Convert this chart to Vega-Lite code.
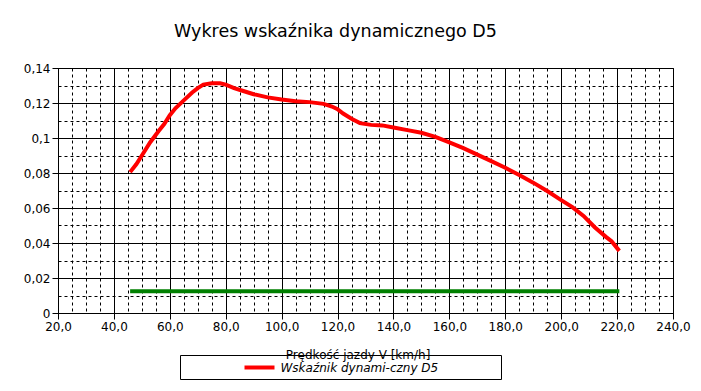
{
  "$schema": "https://vega.github.io/schema/vega-lite/v6.json",
  "autosize": "none",
  "width": 615,
  "height": 245,
  "padding": {"left": 58, "top": 68, "right": 28, "bottom": 78},
  "background": "white",
  "title": {
    "text": "Wykres wskaźnika dynamicznego D5",
    "fontSize": 17.5,
    "fontWeight": "normal",
    "font": "DejaVu Sans",
    "color": "black",
    "anchor": "middle",
    "frame": "group",
    "dx": -30,
    "offset": 22
  },
  "data": {
    "values": [
      {"V": 45.8, "D": 0.0805, "series": "Wskaźnik dynami-czny D5"},
      {"V": 48, "D": 0.085, "series": "Wskaźnik dynami-czny D5"},
      {"V": 50, "D": 0.09, "series": "Wskaźnik dynami-czny D5"},
      {"V": 53, "D": 0.0976, "series": "Wskaźnik dynami-czny D5"},
      {"V": 56, "D": 0.104, "series": "Wskaźnik dynami-czny D5"},
      {"V": 58, "D": 0.108, "series": "Wskaźnik dynami-czny D5"},
      {"V": 60, "D": 0.113, "series": "Wskaźnik dynami-czny D5"},
      {"V": 62, "D": 0.117, "series": "Wskaźnik dynami-czny D5"},
      {"V": 65, "D": 0.1215, "series": "Wskaźnik dynami-czny D5"},
      {"V": 68, "D": 0.126, "series": "Wskaźnik dynami-czny D5"},
      {"V": 70, "D": 0.1285, "series": "Wskaźnik dynami-czny D5"},
      {"V": 72, "D": 0.1305, "series": "Wskaźnik dynami-czny D5"},
      {"V": 75, "D": 0.1313, "series": "Wskaźnik dynami-czny D5"},
      {"V": 78, "D": 0.1313, "series": "Wskaźnik dynami-czny D5"},
      {"V": 80, "D": 0.1305, "series": "Wskaźnik dynami-czny D5"},
      {"V": 83, "D": 0.1285, "series": "Wskaźnik dynami-czny D5"},
      {"V": 86, "D": 0.127, "series": "Wskaźnik dynami-czny D5"},
      {"V": 90, "D": 0.125, "series": "Wskaźnik dynami-czny D5"},
      {"V": 95, "D": 0.1232, "series": "Wskaźnik dynami-czny D5"},
      {"V": 100, "D": 0.122, "series": "Wskaźnik dynami-czny D5"},
      {"V": 105, "D": 0.121, "series": "Wskaźnik dynami-czny D5"},
      {"V": 110, "D": 0.1205, "series": "Wskaźnik dynami-czny D5"},
      {"V": 115, "D": 0.1195, "series": "Wskaźnik dynami-czny D5"},
      {"V": 118, "D": 0.118, "series": "Wskaźnik dynami-czny D5"},
      {"V": 120, "D": 0.1165, "series": "Wskaźnik dynami-czny D5"},
      {"V": 122, "D": 0.114, "series": "Wskaźnik dynami-czny D5"},
      {"V": 125, "D": 0.111, "series": "Wskaźnik dynami-czny D5"},
      {"V": 128, "D": 0.1085, "series": "Wskaźnik dynami-czny D5"},
      {"V": 132, "D": 0.1075, "series": "Wskaźnik dynami-czny D5"},
      {"V": 136, "D": 0.1072, "series": "Wskaźnik dynami-czny D5"},
      {"V": 140, "D": 0.106, "series": "Wskaźnik dynami-czny D5"},
      {"V": 145, "D": 0.1045, "series": "Wskaźnik dynami-czny D5"},
      {"V": 150, "D": 0.103, "series": "Wskaźnik dynami-czny D5"},
      {"V": 155, "D": 0.1007, "series": "Wskaźnik dynami-czny D5"},
      {"V": 160, "D": 0.0975, "series": "Wskaźnik dynami-czny D5"},
      {"V": 165, "D": 0.0942, "series": "Wskaźnik dynami-czny D5"},
      {"V": 170, "D": 0.0905, "series": "Wskaźnik dynami-czny D5"},
      {"V": 175, "D": 0.0868, "series": "Wskaźnik dynami-czny D5"},
      {"V": 180, "D": 0.083, "series": "Wskaźnik dynami-czny D5"},
      {"V": 185, "D": 0.0788, "series": "Wskaźnik dynami-czny D5"},
      {"V": 190, "D": 0.0745, "series": "Wskaźnik dynami-czny D5"},
      {"V": 195, "D": 0.0697, "series": "Wskaźnik dynami-czny D5"},
      {"V": 200, "D": 0.0645, "series": "Wskaźnik dynami-czny D5"},
      {"V": 204, "D": 0.0605, "series": "Wskaźnik dynami-czny D5"},
      {"V": 208, "D": 0.0555, "series": "Wskaźnik dynami-czny D5"},
      {"V": 212, "D": 0.049, "series": "Wskaźnik dynami-czny D5"},
      {"V": 216, "D": 0.0435, "series": "Wskaźnik dynami-czny D5"},
      {"V": 218, "D": 0.041, "series": "Wskaźnik dynami-czny D5"},
      {"V": 220.8, "D": 0.0355, "series": "Wskaźnik dynami-czny D5"},
      {"V": 45.8, "D": 0.0125, "series": "Poziom"},
      {"V": 220.8, "D": 0.0125, "series": "Poziom"}
    ]
  },
  "mark": {"type": "line", "strokeWidth": 4, "strokeCap": "butt", "clip": true},
  "encoding": {
    "x": {
      "field": "V",
      "type": "quantitative",
      "scale": {"domain": [20, 240], "nice": false, "zero": false},
      "axis": {
        "title": "Prędkość jazdy V [km/h]",
        "values": [20,25,30,35,40,45,50,55,60,65,70,75,80,85,90,95,100,105,110,115,120,125,130,135,140,145,150,155,160,165,170,175,180,185,190,195,200,205,210,215,220,225,230,235,240],
        "labelExpr": "datum.value % 20 == 0 ? replace(format(datum.value, '.1f'), '.', ',') : ''",
        "gridDash": {"condition": {"test": "datum.value % 20 != 0", "value": [3, 3]}, "value": []},
        "tickOpacity": {"condition": {"test": "datum.value % 20 != 0", "value": 0}, "value": 1},
        "titlePadding": 17,
        "titleX": 299.5
      }
    },
    "y": {
      "field": "D",
      "type": "quantitative",
      "scale": {"domain": [0, 0.14], "nice": false},
      "axis": {
        "title": null,
        "values": [0, 0.01, 0.02, 0.03, 0.04, 0.05, 0.06, 0.07, 0.08, 0.09, 0.1, 0.11, 0.12, 0.13, 0.14],
        "labelExpr": "round(datum.value * 100) % 2 == 0 ? replace(format(datum.value, '.2~f'), '.', ',') : ''",
        "gridDash": {"condition": {"test": "round(datum.value * 100) % 2 != 0", "value": [3, 3]}, "value": []},
        "tickOpacity": {"condition": {"test": "round(datum.value * 100) % 2 != 0", "value": 0}, "value": 1}
      }
    },
    "color": {
      "field": "series",
      "type": "nominal",
      "scale": {"domain": ["Wskaźnik dynami-czny D5", "Poziom"], "range": ["#ff0000", "#008000"]},
      "legend": {
        "values": ["Wskaźnik dynami-czny D5"],
        "title": " ",
        "titleOrient": "right",
        "titlePadding": 60,
        "orient": "none",
        "legendX": 122,
        "legendY": 287,
        "strokeColor": "black",
        "padding": 3,
        "symbolType": "M-2,0H2",
        "symbolStrokeWidth": 4,
        "symbolSize": 225,
        "symbolOffset": 67,
        "labelFontStyle": "italic",
        "labelFontSize": 12,
        "labelFont": "DejaVu Sans",
        "labelColor": "black",
        "labelOffset": 11.5,
        "labelLimit": 400
      }
    }
  },
  "config": {
    "font": "DejaVu Sans",
    "view": {"stroke": "black", "strokeWidth": 1},
    "axis": {
      "labelFont": "DejaVu Sans",
      "labelFontSize": 12,
      "labelColor": "black",
      "labelOverlap": false,
      "labelPadding": 2,
      "labelFlush": false,
      "titleFont": "DejaVu Sans",
      "titleFontSize": 12,
      "titleFontWeight": "normal",
      "titleColor": "black",
      "gridColor": "black",
      "gridOpacity": 1,
      "gridWidth": 1,
      "domainColor": "black",
      "tickColor": "black",
      "tickSize": 6,
      "grid": true
    }
  }
}
